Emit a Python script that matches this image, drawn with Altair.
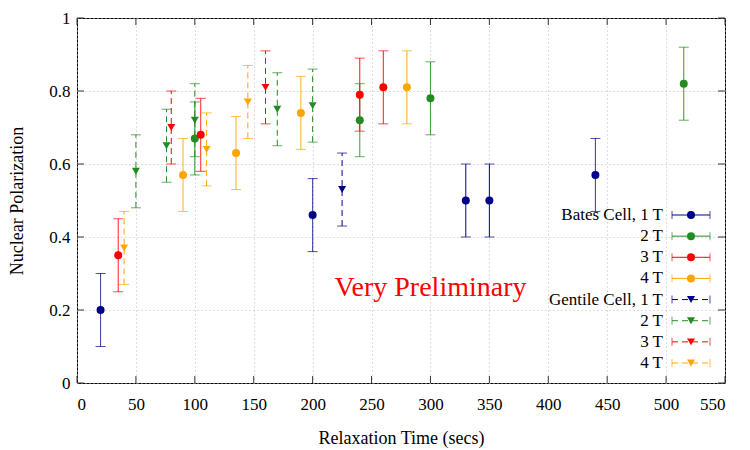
import altair as alt
import pandas as pd

# ---------------- data ----------------
ERR = 0.1

bates_1T_x = [20, 200, 330, 350, 440]
bates_1T_y = [0.20, 0.46, 0.50, 0.50, 0.57]
bates_2T_x = [100, 240, 300, 515]
bates_2T_y = [0.67, 0.72, 0.78, 0.82]
bates_3T_x = [35, 105, 240, 260]
bates_3T_y = [0.35, 0.68, 0.79, 0.81]
bates_4T_x = [90, 135, 190, 280]
bates_4T_y = [0.57, 0.63, 0.74, 0.81]

gentile_1T_x = [225]
gentile_1T_y = [0.53]
gentile_2T_x = [50, 76, 100, 170, 200]
gentile_2T_y = [0.58, 0.65, 0.72, 0.75, 0.76]
gentile_3T_x = [80, 160]
gentile_3T_y = [0.70, 0.81]
gentile_4T_x = [40, 110, 145]
gentile_4T_y = [0.37, 0.64, 0.77]

fields = ["1 T", "2 T", "3 T", "4 T"]
cells = ["Bates", "Gentile"]
colors = ["#00008b", "#228b22", "#ff0000", "#ffa500"]

legend_keys = ["B1", "B2", "B3", "B4", "G1", "G2", "G3", "G4"]
legend_text = ["Bates Cell, 1 T", "2 T", "3 T", "4 T",
               "Gentile Cell, 1 T", "2 T", "3 T", "4 T"]

x_ticks = [0, 50, 100, 150, 200, 250, 300, 350, 400, 450, 500, 550]
y_ticks = [0, 0.2, 0.4, 0.6, 0.8, 1.0]

annot_x = [300]
annot_y = [0.26]
annot_t = ["Very Preliminary"]

FONT = "Liberation Serif"
W, H = 648, 365

# ---------------- build tables ----------------
series = [
    ("Bates", "1 T", bates_1T_x, bates_1T_y),
    ("Bates", "2 T", bates_2T_x, bates_2T_y),
    ("Bates", "3 T", bates_3T_x, bates_3T_y),
    ("Bates", "4 T", bates_4T_x, bates_4T_y),
    ("Gentile", "1 T", gentile_1T_x, gentile_1T_y),
    ("Gentile", "2 T", gentile_2T_x, gentile_2T_y),
    ("Gentile", "3 T", gentile_3T_x, gentile_3T_y),
    ("Gentile", "4 T", gentile_4T_x, gentile_4T_y),
]
rows = []
for cell, fld, xs, ys in series:
    for xv, yv in zip(xs, ys):
        rows.append({"cell": cell, "field": fld, "x": xv, "y": yv,
                     "lo": yv - ERR, "hi": yv + ERR})
df = pd.DataFrame(rows)

leg = pd.DataFrame({
    "key": legend_keys,
    "text": legend_text,
    "cell": [cells[0]] * 4 + [cells[1]] * 4,
    "field": fields * 2,
})

xt = pd.DataFrame({"v": x_ticks})
yt = pd.DataFrame({"v": y_ticks})
ann = pd.DataFrame({"x": annot_x, "y": annot_y, "t": annot_t})

# ---------------- scales ----------------
xscale = alt.Scale(domain=[0, 550], nice=False, zero=False)
yscale = alt.Scale(domain=[0, 1], nice=False)
color = alt.Color("field:N", scale=alt.Scale(domain=fields, range=colors), legend=None)
dash = alt.StrokeDash("cell:N", scale=alt.Scale(domain=cells, range=[[1, 0], [6, 4]]), legend=None)
shape = alt.Shape("cell:N", scale=alt.Scale(domain=cells, range=["circle", "triangle-down"]), legend=None)

xaxis = alt.Axis(values=x_ticks, grid=True, gridDash=[1, 3], gridColor="#bdbdbd",
                 ticks=False, domain=False, labelFont=FONT, labelFontSize=17,
                 labelColor="black", labelPadding=13,
                 title="Relaxation Time (secs)", titleFont=FONT, titleFontSize=18,
                 titleFontWeight="normal", titleColor="black",
                 titleX=W / 2, titleY=55, titleAlign="center", titleBaseline="middle")
yaxis = alt.Axis(values=y_ticks, format="~g", grid=True, gridDash=[1, 3], gridColor="#bdbdbd",
                 ticks=False, domain=False, labelFont=FONT, labelFontSize=17,
                 labelColor="black", labelPadding=7,
                 title="Nuclear Polarization", titleFont=FONT, titleFontSize=18,
                 titleFontWeight="normal", titleColor="black",
                 titleX=-60, titleY=H / 2, titleAngle=-90, titleAlign="center",
                 titleBaseline="middle")

base = alt.Chart(df)

bars = base.mark_rule(strokeWidth=1).encode(
    x=alt.X("x:Q", scale=xscale, axis=xaxis),
    y=alt.Y("lo:Q", scale=yscale, axis=yaxis),
    y2="hi:Q",
    color=color,
    strokeDash=dash,
)
cap_lo = base.mark_tick(orient="horizontal", size=10, thickness=1).encode(
    x=alt.X("x:Q", scale=xscale), y=alt.Y("lo:Q", scale=yscale), color=color)
cap_hi = base.mark_tick(orient="horizontal", size=10, thickness=1).encode(
    x=alt.X("x:Q", scale=xscale), y=alt.Y("hi:Q", scale=yscale), color=color)
pts = base.mark_point(filled=True, size=64, opacity=1).encode(
    x=alt.X("x:Q", scale=xscale), y=alt.Y("y:Q", scale=yscale), color=color, shape=shape)

# inside ticks (gnuplot style, mirrored)
tick_col = "#333333"
xt_bot = alt.Chart(xt).mark_rule(color=tick_col).encode(
    x=alt.X("v:Q", scale=xscale), y=alt.value(H), y2=alt.value(H - 7))
xt_top = alt.Chart(xt).mark_rule(color=tick_col).encode(
    x=alt.X("v:Q", scale=xscale), y=alt.value(0), y2=alt.value(7))
yt_left = alt.Chart(yt).mark_rule(color=tick_col).encode(
    y=alt.Y("v:Q", scale=yscale), x=alt.value(0), x2=alt.value(7))
yt_right = alt.Chart(yt).mark_rule(color=tick_col).encode(
    y=alt.Y("v:Q", scale=yscale), x=alt.value(W), x2=alt.value(W - 7))

annot = alt.Chart(ann).mark_text(color="#ff0000", font=FONT, fontSize=28,
                                 align="center", baseline="middle").encode(
    x=alt.X("x:Q", scale=xscale), y=alt.Y("y:Q", scale=yscale), text="t:N")

main = alt.layer(xt_bot, xt_top, yt_left, yt_right, bars, cap_lo, cap_hi, pts, annot)

# ---------------- manual legend ----------------
ly = alt.Y("key:N", scale=alt.Scale(type="point", domain=legend_keys, range=[197, 345], padding=0),
           axis=None)
lbase = alt.Chart(leg)
l_text = lbase.mark_text(align="right", baseline="middle", font=FONT, fontSize=17,
                         color="black").encode(x=alt.value(586), y=ly, text="text:N")
l_rule = lbase.mark_rule(strokeWidth=1).encode(
    x=alt.value(595), x2=alt.value(633), y=ly, color=color, strokeDash=dash)
l_cap1 = lbase.mark_tick(orient="vertical", size=8, thickness=1).encode(
    x=alt.value(595), y=ly, color=color)
l_cap2 = lbase.mark_tick(orient="vertical", size=8, thickness=1).encode(
    x=alt.value(633), y=ly, color=color)
l_pts = lbase.mark_point(filled=True, size=64, opacity=1).encode(
    x=alt.value(614), y=ly, color=color, shape=shape)
legend = alt.layer(l_text, l_rule, l_cap1, l_cap2, l_pts)

chart = alt.layer(main, legend).resolve_scale(y="independent").properties(
    width=W, height=H,
    autosize=alt.AutoSizeParams(type="none"),
    padding={"left": 77, "top": 18, "right": 25, "bottom": 67},
    background="white",
).configure_view(stroke="black", strokeWidth=1)

chart.save("out.html", embed_options={"renderer": "svg", "actions": False})
